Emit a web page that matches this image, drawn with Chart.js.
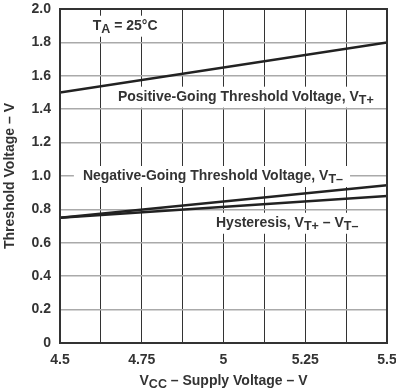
<!DOCTYPE html>
<html>
<head>
<meta charset="utf-8">
<script src="https://cdn.jsdelivr.net/npm/chart.js@4"></script>
<style>
  html, body { margin: 0; padding: 0; background: #fff; }
  canvas { display: block; }
</style>
</head>
<body>
<canvas id="c" width="396" height="390"></canvas>
<script>
// ---- data ----
const supplyVoltage = [4.5, 5.5];
const positiveGoing = [1.5, 1.8];
const negativeGoing = [0.75, 0.945];
const hysteresis = [0.75, 0.88];
const xTickLabels = ['4.5', '4.75', '5', '5.25', '5.5'];
const yTickLabels = ['0', '0.2', '0.4', '0.6', '0.8', '1.0', '1.2', '1.4', '1.6', '1.8', '2.0'];

const FONT = '"Liberation Sans", Arial, sans-serif';
const TEXT = '#333';
const MAIN = 'bold 14px ' + FONT;
const SUB = 'bold 12.5px ' + FONT;

function pts(ys) { return supplyVoltage.map((x, i) => ({ x: x, y: ys[i] })); }

// rich text labels (anchor in data coordinates, left aligned, vertically centered)
const labels = [
  { x: 4.6, y: 1.9, parts: [['T'], ['A', 1], [' = 25°C']] },
  { x: 4.677, y: 1.475, parts: [['Positive-Going Threshold Voltage, V'], ['T+', 1]] },
  { x: 4.57, y: 1.0, parts: [['Negative-Going Threshold Voltage, V'], ['T–', 1]] },
  { x: 4.977, y: 0.72, parts: [['Hysteresis, V'], ['T+', 1], [' – V'], ['T–', 1]] }
];

function richWidth(ctx, parts) {
  let w = 0;
  parts.forEach(p => { ctx.font = p[1] ? SUB : MAIN; w += ctx.measureText(p[0]).width; });
  return w;
}

function drawRich(ctx, parts, x, y, bg) {
  const w = richWidth(ctx, parts);
  if (bg) {
    ctx.fillStyle = '#fff';
    ctx.fillRect(x - 9, y - 10, w + 16, 21);
  }
  ctx.fillStyle = TEXT;
  ctx.textBaseline = 'middle';
  ctx.textAlign = 'left';
  let cx = x;
  parts.forEach(p => {
    ctx.font = p[1] ? SUB : MAIN;
    ctx.fillText(p[0], cx, p[1] ? y + 4 : y);
    cx += ctx.measureText(p[0]).width;
  });
  return w;
}

const decor = {
  id: 'decor',
  beforeDatasetsDraw(chart) {
    const { ctx, scales: { x, y } } = chart;
    ctx.save();
    labels.forEach(l => drawRich(ctx, l.parts, x.getPixelForValue(l.x), y.getPixelForValue(l.y), true));
    ctx.restore();
  },
  afterDraw(chart) {
    const { ctx, chartArea: a } = chart;
    ctx.save();
    ctx.strokeStyle = '#333';
    ctx.lineWidth = 2;
    ctx.strokeRect(a.left, a.top, a.right - a.left, a.bottom - a.top);
    // y title
    ctx.fillStyle = TEXT;
    ctx.font = MAIN;
    ctx.textAlign = 'center';
    ctx.textBaseline = 'middle';
    ctx.translate(10, (a.top + a.bottom) / 2);
    ctx.rotate(-Math.PI / 2);
    ctx.fillText('Threshold Voltage – V', 0, 0);
    ctx.restore();
    // x title
    ctx.save();
    const parts = [['V'], ['CC', 1], [' – Supply Voltage – V']];
    const w = richWidth(ctx, parts);
    drawRich(ctx, parts, (a.left + a.right) / 2 - w / 2, 381, false);
    ctx.restore();
  }
};

const lineStyle = { borderColor: '#222', borderWidth: 2.5, showLine: true, pointRadius: 0, fill: false, tension: 0 };

new Chart(document.getElementById('c'), {
  type: 'scatter',
  data: {
    datasets: [
      Object.assign({ label: 'Positive-Going Threshold Voltage', data: pts(positiveGoing) }, lineStyle),
      Object.assign({ label: 'Negative-Going Threshold Voltage', data: pts(negativeGoing) }, lineStyle),
      Object.assign({ label: 'Hysteresis', data: pts(hysteresis) }, lineStyle)
    ]
  },
  options: {
    responsive: false,
    animation: false,
    devicePixelRatio: 1,
    layout: { padding: { top: 9, right: 9, left: 0, bottom: 0 } },
    plugins: { legend: { display: false }, tooltip: { enabled: false } },
    scales: {
      x: {
        type: 'linear', min: 4.5, max: 5.5,
        afterBuildTicks(s) { s.ticks = []; for (let i = 0; i <= 8; i++) s.ticks.push({ value: 4.5 + i * 0.125 }); },
        afterFit(s) { s.height = 47; s.paddingLeft = 0; s.paddingRight = 0; },
        ticks: {
          autoSkip: false, maxRotation: 0, padding: 9, color: TEXT,
          font: { family: FONT, size: 14, weight: 'bold' },
          callback(v, i) { return i % 2 === 0 ? xTickLabels[i / 2] : ''; }
        },
        grid: { color: '#333', lineWidth: 1, drawTicks: false },
        border: { color: '#333', width: 2 }
      },
      y: {
        type: 'linear', min: 0, max: 2,
        afterBuildTicks(s) { s.ticks = yTickLabels.map((t, i) => ({ value: i * 0.2 })); },
        afterFit(s) { s.width = 60; s.paddingTop = 0; s.paddingBottom = 0; },
        ticks: {
          autoSkip: false, padding: 9, color: TEXT,
          font: { family: FONT, size: 14, weight: 'bold' },
          callback(v, i) { return yTickLabels[i]; }
        },
        grid: { color: '#aaa', lineWidth: 1.5, drawTicks: false },
        border: { color: '#333', width: 2 }
      }
    }
  },
  plugins: [decor]
});
</script>
</body>
</html>
